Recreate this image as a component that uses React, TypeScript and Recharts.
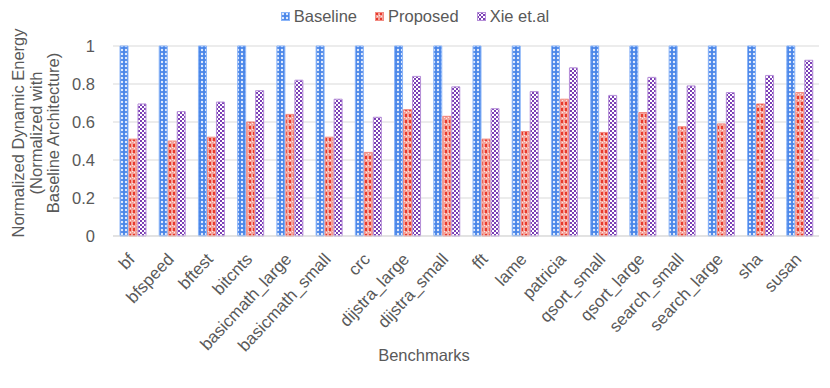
import React from 'react';
import { BarChart, Bar, XAxis, YAxis, CartesianGrid, Legend } from 'recharts';

const categories = ['bf', 'bfspeed', 'bftest', 'bitcnts', 'basicmath_large', 'basicmath_small', 'crc', 'dijstra_large', 'dijstra_small', 'fft', 'lame', 'patricia', 'qsort_small', 'qsort_large', 'search_small', 'search_large', 'sha', 'susan'];
const baseline = [1, 1, 1, 1, 1, 1, 1, 1, 1, 1, 1, 1, 1, 1, 1, 1, 1, 1];
const proposed = [0.51, 0.5, 0.52, 0.6, 0.64, 0.52, 0.44, 0.665, 0.63, 0.51, 0.55, 0.72, 0.545, 0.65, 0.575, 0.59, 0.695, 0.755];
const xie = [0.695, 0.655, 0.705, 0.765, 0.82, 0.72, 0.625, 0.84, 0.785, 0.67, 0.76, 0.885, 0.74, 0.835, 0.79, 0.755, 0.845, 0.925];
const yTicks = [0, 0.2, 0.4, 0.6, 0.8, 1];
const seriesNames = ['Baseline', 'Proposed', 'Xie et.al'];

const data = categories.map((c, i) => ({ name: c, Baseline: baseline[i], Proposed: proposed[i], Xie: xie[i] }));

const FONT = '"Liberation Sans", Arial, sans-serif';
const TEXT = '#595959';

const fills = ['url(#patBase)', 'url(#patProp)', 'url(#patXie)'];
const strokes = ['#8ab4f8', '#f28b82', '#b58ed8'];

const Defs = () => (
  <defs>
    <pattern id="patBase" patternUnits="userSpaceOnUse" width="4" height="4">
      <rect width="4" height="4" fill="#4a86e8" />
      <circle cx="2" cy="2" r="1.2" fill="#e3ecfd" />
    </pattern>
    <pattern id="patProp" patternUnits="userSpaceOnUse" width="4" height="6">
      <rect width="4" height="6" fill="#f4a49b" />
      <rect x="1" y="0" width="2" height="3" fill="#e8392c" />
      <rect x="0" y="3" width="1" height="1" fill="#fde4e1" />
      <rect x="2" y="4" width="1" height="1" fill="#fde4e1" />
    </pattern>
    <pattern id="patXie" patternUnits="userSpaceOnUse" width="4" height="4">
      <rect width="4" height="4" fill="#ffffff" />
      <rect x="0" y="0" width="2" height="2" fill="#7b3fb4" />
      <rect x="2" y="2" width="2" height="2" fill="#7b3fb4" />
    </pattern>
  </defs>
);

const XTick = (props: any) => {
  const { x, y, payload } = props;
  const ax = x + 3;
  const ay = y + 16;
  return (
    <text x={ax} y={ay} transform={`rotate(-47, ${ax}, ${ay})`} textAnchor="end" fontSize={17} fontFamily={FONT} fill={TEXT}>
      {payload.value}
    </text>
  );
};

const LegendContent = () => (
  <div style={{ height: 40, display: 'flex', justifyContent: 'center', alignItems: 'flex-start', fontFamily: FONT, fontSize: 16.5, color: TEXT }}>
    {seriesNames.map((n, i) => (
      <div key={n} style={{ display: 'flex', alignItems: 'center', marginLeft: i === 0 ? 0 : 18 }}>
        <svg width={9} height={9} style={{ marginRight: 4 }}>
          <rect x={0.5} y={0.5} width={8} height={8} fill={fills[i]} stroke={strokes[i]} strokeWidth={1} />
        </svg>
        <span style={{ lineHeight: '20px' }}>{n}</span>
      </div>
    ))}
  </div>
);

export default function App() {
  return (
    <div style={{ position: 'absolute', left: 0, top: 0, width: 830, height: 388, background: '#fff' }}>
      <BarChart width={830} height={388} data={data} margin={{ top: 6, right: 11, bottom: 0, left: 0 }} barSize={8} barGap={1}>
        <Defs />
        <CartesianGrid vertical={false} stroke="#d9d9d9" strokeWidth={1} />
        <Legend verticalAlign="top" align="center" content={<LegendContent />} wrapperStyle={{ top: 6, left: 0, width: 830 }} />
        <XAxis
          dataKey="name"
          interval={0}
          tick={<XTick />}
          tickLine={false}
          axisLine={{ stroke: '#d9d9d9' }}
          height={152}
          label={{
            content: () => (
              <text x={424} y={361} textAnchor="middle" fontSize={16.5} fontFamily={FONT} fill={TEXT}>Benchmarks</text>
            ),
          }}
        />
        <YAxis
          domain={[0, 1]}
          ticks={yTicks}
          tickFormatter={(v: number) => String(v)}
          width={113}
          axisLine={false}
          tickLine={false}
          tickMargin={12}
          tick={{ fontSize: 16.5, fontFamily: FONT, fill: TEXT }}
          label={{
            content: () => (
              <g fontSize={16.5} fontFamily={FONT} fill={TEXT} textAnchor="middle">
                <text transform="rotate(-90)" x={-133} y={24}>Normalized Dynamic Energy</text>
                <text transform="rotate(-90)" x={-133} y={41.5}>(Normalized with</text>
                <text transform="rotate(-90)" x={-133} y={59}>Baseline Architecture)</text>
              </g>
            ),
          }}
        />
        <Bar dataKey="Baseline" name="Baseline" fill={fills[0]} stroke={strokes[0]} strokeWidth={1} isAnimationActive={false} />
        <Bar dataKey="Proposed" name="Proposed" fill={fills[1]} stroke={strokes[1]} strokeWidth={1} isAnimationActive={false} />
        <Bar dataKey="Xie" name="Xie et.al" fill={fills[2]} stroke={strokes[2]} strokeWidth={1} isAnimationActive={false} />
      </BarChart>
    </div>
  );
}
